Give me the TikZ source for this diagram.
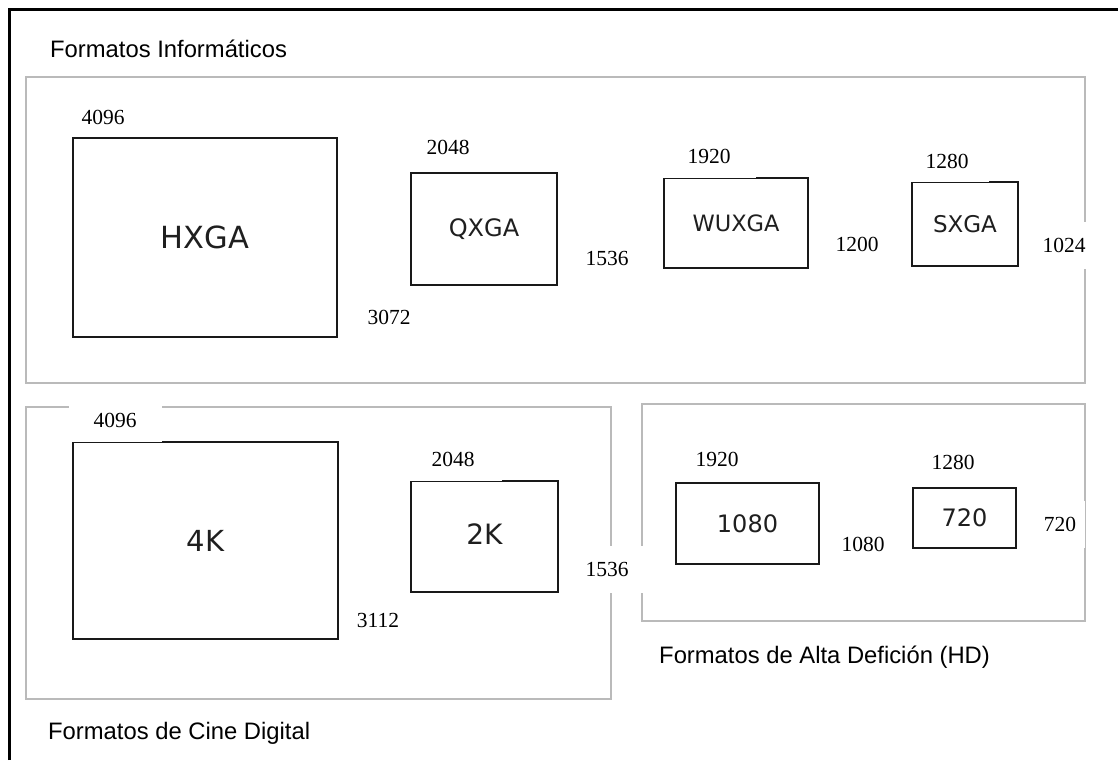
\documentclass[tikz,border=0pt]{standalone}
\usepackage{fontspec}
\setmainfont{Liberation Serif}
\newfontfamily\titlefont{Liberation Sans}
\newfontfamily\boxfont{DejaVu Sans}
\begin{document}
\begin{tikzpicture}[x=1pt,y=-1pt,
  cont/.style={draw=black!27, line width=2.2pt, inner sep=0pt},
  fmt/.style={draw=black!90, line width=2.8pt, inner sep=0pt, text=black!88},
  bf/.style={font=\boxfont\fontsize{#1}{#1}\selectfont},
  num/.style={fill=white, inner sep=3pt, font=\fontsize{21.5}{24}\selectfont},
  ttl/.style={anchor=base west, inner sep=0pt, font=\titlefont\fontsize{23.8}{26}\selectfont}]
\useasboundingbox (0,0) rectangle (1118,760);
\fill[white] (0,0) rectangle (1118,760);
% outer frame
\draw[line width=3pt] (9,760) -- (9,10) -- (1118,10);
% containers
\node[cont, minimum width=1059pt, minimum height=306pt] (informaticos) at (555.5,230) {};
\node[cont, minimum width=585pt, minimum height=292pt] (cine) at (318.5,553) {};
\node[cont, minimum width=443pt, minimum height=217pt] (hd) at (863.5,512.5) {};
% format boxes
\node[fmt, bf=30.5, minimum width=264pt, minimum height=199pt] (hxga) at (205,237.5) {HXGA};
\node[fmt, bf=24, minimum width=146pt, minimum height=112pt] (qxga) at (484,229) {QXGA};
\node[fmt, bf=22.5, minimum width=144pt, minimum height=90pt] (wuxga) at (736,223) {WUXGA};
\node[fmt, bf=23, minimum width=106pt, minimum height=84pt] (sxga) at (965,224) {SXGA};
\node[fmt, bf=29, minimum width=265pt, minimum height=197pt] (fourk) at (205.5,540.5) {\raisebox{-8pt}{4K}};
\node[fmt, bf=28, minimum width=147pt, minimum height=111pt] (twok) at (484.5,536.5) {\raisebox{5pt}{2K}};
\node[fmt, bf=24, minimum width=143pt, minimum height=81pt] (hd1080) at (747.5,523.5) {1080};
\node[fmt, bf=24, minimum width=103pt, minimum height=60pt] (hd720) at (964.5,518) {720};
% dimension numbers
\node[num] (hxgaw) at (103,117) {4096};
\node[num, minimum width=80pt, minimum height=50pt] (hxgah) at (389,317) {3072};
\node[num] (qxgaw) at (448,147) {2048};
\node[num] (qxgah) at (607,258) {1536};
\node[num, minimum width=94pt, minimum height=43pt] (wuxgaw) at (709,156.5) {1920};
\node[num] (wuxgah) at (857,244) {1200};
\node[num, minimum width=83pt, minimum height=42pt] (sxgaw) at (947,161) {1280};
\node[num, minimum width=60pt, minimum height=47pt] (sxgah) at (1064,245) {1024};
\node[num, minimum width=93pt, minimum height=44pt] (fourkw) at (115,420) {4096};
\node[num, minimum width=98pt, minimum height=43pt] (twokw) at (453,459.5) {2048};
\node[num] (fourkh) at (378,620) {3112};
\node[num, minimum width=72pt, minimum height=47pt] (twokh) at (607,569) {1536};
\node[num] (hdaw) at (717,459) {1920};
\node[num] (hdah) at (863,544) {1080};
\node[num] (hdbw) at (953,462) {1280};
\node[num, minimum width=50pt, minimum height=47pt] (hdbh) at (1060,524) {720};
% titles
\node[ttl] (t1) at (50,57.5) {Formatos Informáticos};
\node[ttl] (t2) at (48,739) {Formatos de Cine Digital};
\node[ttl] (t3) at (659,663) {Formatos de Alta Defición (HD)};
\end{tikzpicture}
\end{document}
